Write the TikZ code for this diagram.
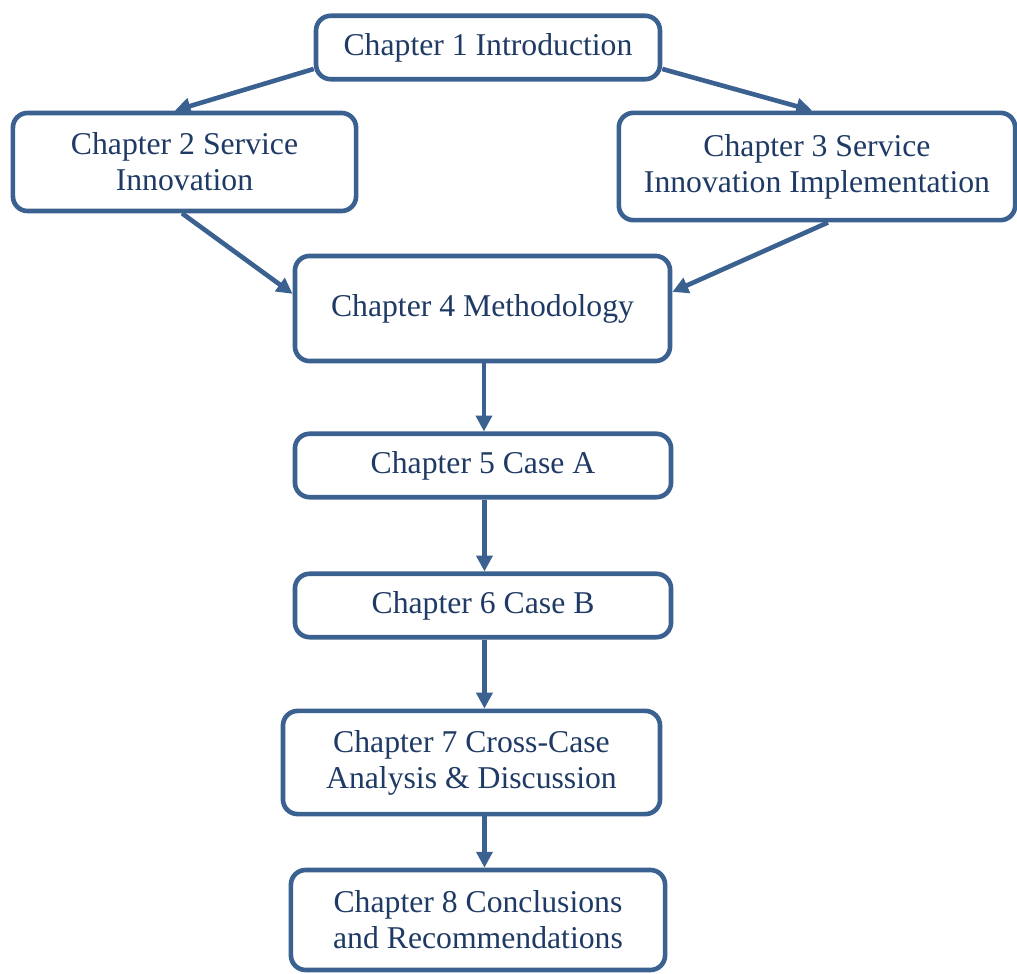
\documentclass[tikz,border=0pt]{standalone}
\usepackage{fontspec}
\setmainfont{Liberation Serif}
\usetikzlibrary{arrows.meta}
\definecolor{boxline}{HTML}{3B6190}
\definecolor{boxtext}{HTML}{1F3A64}
\tikzset{
	chapter/.style={draw=boxline, line width=1.9pt, rounded corners=6pt, fill=white,
		text=boxtext, align=center, inner sep=2pt, font=\fontsize{13}{14.8}\selectfont},
	link/.style={draw=boxline, line width=1.9pt, -{Triangle[length=6.5pt,width=6.5pt]}},
}
\begin{document}
\begin{tikzpicture}[x=0.41pt, y=-0.41pt]
			\useasboundingbox (0,0) rectangle (1017,974);
			\node [chapter, minimum width=141pt, minimum height=26pt] (ch1) at (488,47.5) {Chapter 1 Introduction};
			\node [chapter, minimum width=140.7pt, minimum height=40.2pt] (ch2) at (184.5,162) {Chapter 2 Service\\Innovation};
			\node [chapter, minimum width=162.5pt, minimum height=44pt] (ch3) at (817,166.5) {Chapter 3 Service\\Innovation Implementation};
			\node [chapter, minimum width=153.8pt, minimum height=43.1pt] (ch4) at (482.5,308.5) {Chapter 4 Methodology};
			\node [chapter, minimum width=154.2pt, minimum height=26pt] (ch5) at (483,465.5) {Chapter 5 Case A};
			\node [chapter, minimum width=154.2pt, minimum height=26pt] (ch6) at (483,605.5) {Chapter 6 Case B};
			\node [chapter, minimum width=154.6pt, minimum height=42.3pt] (ch7) at (471.5,762.5) {Chapter 7 Cross-Case\\Analysis \& Discussion};
			\node [chapter, minimum width=153.4pt, minimum height=41pt] (ch8) at (478,920) {Chapter 8 Conclusions\\and Recommendations};
			
			\draw [link] ([yshift=-8.8pt]ch1.west) -- ([xshift=-4pt]ch2.north);
			\draw [link] ([yshift=-8.8pt]ch1.east) -- ([xshift=-2pt]ch3.north);
			\draw [link] ([xshift=-1pt]ch2.south) -- ([yshift=6pt]ch4.west);
			\draw [link] ([xshift=4.5pt]ch3.south) -- ([yshift=6.8pt]ch4.east);
			\draw [link] ([xshift=0.6pt]ch4.south) -- ([xshift=0.6pt]ch4.south |- ch5.north);
			\draw [link] ([xshift=0.6pt]ch5.south) -- ([xshift=0.6pt]ch6.north);
			\draw [link] ([xshift=0.6pt]ch6.south) -- ([xshift=0.6pt]ch6.south |- ch7.north);
			\draw [link] ([xshift=0.6pt]ch6.south |- ch7.south) -- ([xshift=0.6pt]ch6.south |- ch8.north);
\end{tikzpicture}
\end{document}
